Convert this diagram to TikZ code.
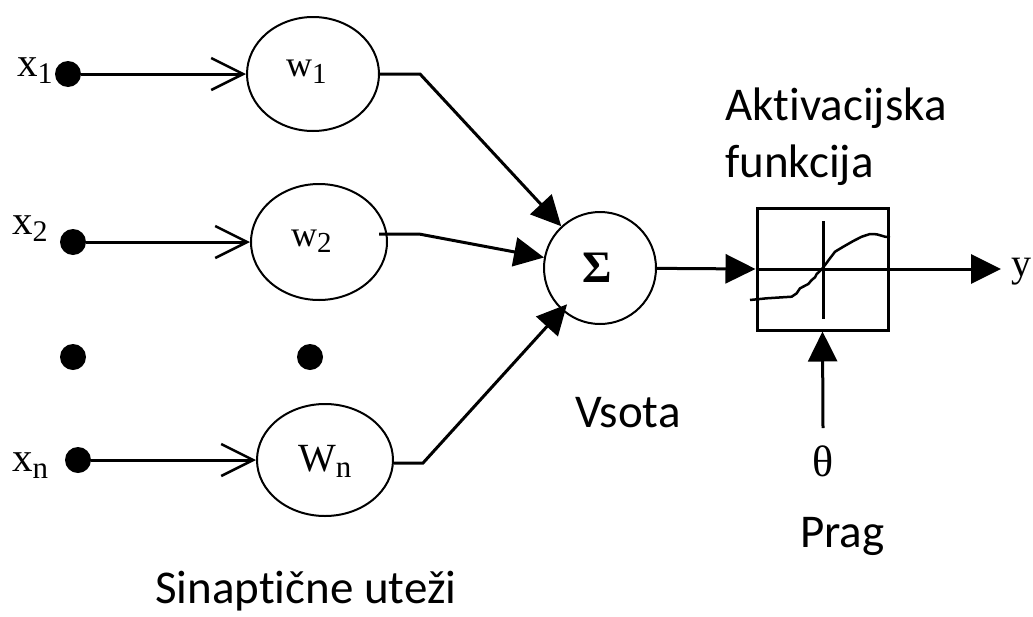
\documentclass[tikz,border=0pt]{standalone}
\usepackage{fontspec}
\setmainfont{Liberation Serif}
\newfontfamily\sansf[Ligatures=NoCommon]{Carlito}
\usetikzlibrary{arrows.meta,shapes.geometric}
\newcommand{\subl}[5]{{\fontsize{#1}{#1}\selectfont #2}{\fontsize{#3}{#3}\selectfont\raisebox{-#5}{#4}}}
\begin{document}
\begin{tikzpicture}[x=1pt,y=-1pt,
  wnode/.style={ellipse,draw,line width=2pt,inner sep=0pt},
  dotn/.style={circle,fill,inner sep=0pt,minimum size=26pt},
  inarrow/.style={line width=3pt,-{Straight Barb[length=32pt,width=32pt,line width=2.5pt]}},
  conn/.style={line width=3pt,-{Triangle[length=30pt,width=29pt]}},
  sanslbl/.style={font=\sansf\fontsize{47}{47}\selectfont,inner sep=0pt,anchor=base west},
  serlbl/.style={inner sep=0pt,anchor=base west}]
\useasboundingbox (0,0) rectangle (1033,616);

% weight ellipses
\node[wnode,minimum width=132pt,minimum height=114pt] (w1) at (313,74) {};
\node[wnode,minimum width=136pt,minimum height=116pt] (w2) at (319,242) {};
\node[wnode,minimum width=136pt,minimum height=112pt] (wn) at (325,460) {};

% input dots
\node[dotn] (d1) at (68,74) {};
\node[dotn] (d2) at (73,242) {};
\node[dotn] (dd1) at (73,357) {};
\node[dotn] (dd2) at (310,357) {};
\node[dotn] (dn) at (78,460) {};

% input labels
\node[serlbl] (lx1) at (17,76) {\subl{41}{x}{30}{1}{7pt}};
\node[serlbl] (lx2) at (12,234) {\subl{41}{x}{30}{2}{7pt}};
\node[serlbl] (lxn) at (12,471) {\subl{41}{x}{31}{n}{7pt}};

% weight labels
\node[serlbl] (lw1) at (286,76) {\subl{36}{w}{29}{1}{7pt}};
\node[serlbl] (lw2) at (291,246) {\subl{36}{w}{29}{2}{6pt}};
\node[serlbl] (lwn) at (298,471) {\subl{40}{W}{31}{n}{6pt}};

% summation
\node[circle,draw,line width=2pt,minimum size=112pt,inner sep=0pt] (sig) at (600,268) {};
\node[inner sep=0pt] (sigl) at (597,268) {\fontsize{45}{45}\selectfont\bfseries Σ};

% activation box
\node[draw,line width=3pt,minimum width=131pt,minimum height=122pt,inner sep=0pt] (box) at (822.5,269) {};
\coordinate (vt) at (823,221);
\coordinate (vb) at (823,319);
\draw[line width=3pt] (vt) -- (vb);
\draw[line width=3pt] (box.west) -- (box.east);
\draw[line width=2.5pt,line join=round]
  (750,300) -- (766.7,298.3) -- (791.7,296.7) -- (796.7,293.3) -- (800,288.3)
  -- (808.3,284) -- (811.7,280) -- (815,277.3) -- (816.7,274) -- (821.7,269.3)
  -- (825,265) -- (830,258.3) -- (835,251.7) -- (843.3,246.7) -- (853.3,241)
  -- (861.7,236.7) -- (870,234) -- (876.7,234.3) -- (885,236.7) -- (890,237.3);

% output
\node[inner sep=0pt,anchor=base west] (yl) at (1011,276) {\fontsize{40}{40}\selectfont y};
\coordinate (yout) at (1001,269);
\node[inner sep=0pt] (th) at (823,461) {\fontsize{44}{44}\selectfont θ};
\coordinate (thtop) at (823,428);

% connectors
\draw[inarrow] (d1) -- (w1);
\draw[inarrow] (d2) -- (w2);
\draw[inarrow] (dn) -- (wn);
\draw[conn] (w1.east) -- ++(40,0) -- (sig);
\draw[conn] ([shift={(-9,-8)}]w2.east) -- ++(40,0) -- (sig);
\draw[conn,shorten >=-8pt] ([shift={(0,3)}]wn.east) -- ++(29,0) -- (sig);
\draw[conn] (sig) -- (box.west);
\draw[conn] (box.east) -- (yout);
\draw[conn] (thtop) -- (box.south);

% texts
\node[sanslbl] (t1) at (725,120) {Akt\kern0pti\kern0ptvacijska};
\node[sanslbl] (t2) at (725,177) {funkcija};
\node[sanslbl] (t3) at (575,427) {Vsota};
\node[sanslbl] (t4) at (800,547) {Prag};
\node[sanslbl] (t5) at (155,603) {Sinapt\kern0pti\kern0ptčne uteži};
\end{tikzpicture}
\end{document}
